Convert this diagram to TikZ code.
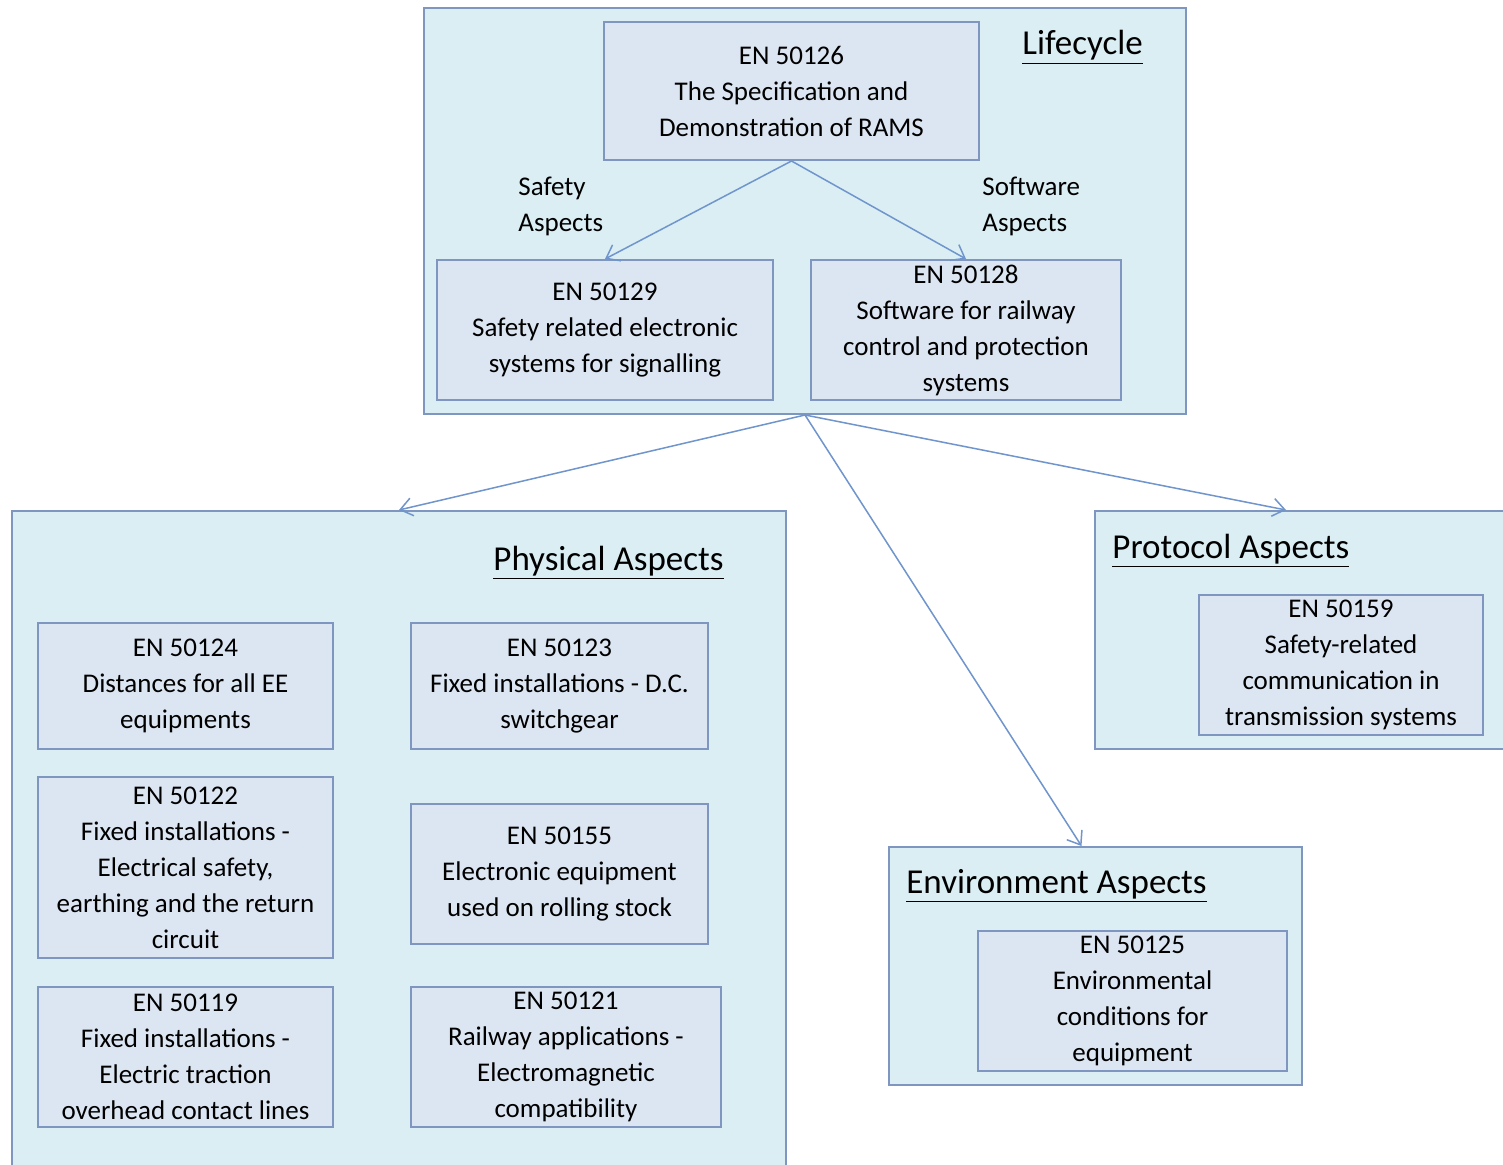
\documentclass[tikz,border=0pt]{standalone}
\usepackage{fontspec}
\setmainfont{Carlito}
\usetikzlibrary{arrows.meta,calc}
\definecolor{panelfill}{HTML}{DAEEF3}
\definecolor{boxfill}{HTML}{DCE6F2}
\definecolor{edgeblue}{HTML}{7F97C0}
\definecolor{linkblue}{HTML}{6F95CC}
\begin{document}
\begin{tikzpicture}[x=0.5pt,y=-0.5pt,
  panel/.style={draw=edgeblue, fill=panelfill, line width=1pt, inner sep=0pt},
  stdbox/.style={draw=edgeblue, fill=boxfill, line width=1pt, inner sep=0pt,
    align=center, font=\fontsize{13.5}{18}\selectfont},
  dim/.style 2 args={minimum width=#1*0.5pt, minimum height=#2*0.5pt},
  title/.style={anchor=base west, inner sep=0pt, font=\fontsize{17.5}{21}\selectfont},
  note/.style={anchor=west, align=left, inner sep=0pt, font=\fontsize{13.5}{18}\selectfont},
  conn/.style={draw=linkblue, line width=0.75pt, -{Straight Barb[length=6pt,width=9pt]}}
]
\useasboundingbox (0,0) rectangle (1503,1165);
\fill[white] (0,0) rectangle (1503,1165);

% container panels
\node[panel, dim={762}{406}] (life) at (805,211) {};
\node[panel, dim={774}{659}] (phys) at (399,840.5) {};
\node[panel, dim={420}{238}] (proto) at (1305,630) {};
\node[panel, dim={413}{238}] (env) at (1095.5,966) {};

% panel titles
\node[title] (tlife) at (1022,55) {\underline{Lifecycle}};
\node[title] (tphys) at (493,570) {\underline{Physical Aspects}};
\node[title] (tproto) at (1112,558) {\underline{Protocol Aspects}};
\node[title] (tenv) at (906,893) {\underline{Environment Aspects}};

% lifecycle standards
\node[stdbox, dim={375}{138}] (r126) at (791.5,91) {EN 50126\\The Specification and\\Demonstration of RAMS};
\node[stdbox, dim={336}{140}] (r129) at (605,330) {EN 50129\\Safety related electronic\\systems for signalling};
\node[stdbox, dim={310}{140}] (r128) at (966,330) {EN 50128\\Software for railway\\control and protection\\systems};
\node[note] (lsafe) at (518,206) {Safety\\Aspects};
\node[note] (lsoft) at (982,206) {Software\\Aspects};

% physical standards
\node[stdbox, dim={295}{126}] (r124) at (185.5,686) {EN 50124\\Distances for all EE\\equipments};
\node[stdbox, dim={297}{126}] (r123) at (559.5,686) {EN 50123\\Fixed installations - D.C.\\switchgear};
\node[stdbox, dim={295}{181}] (r122) at (185.5,867.5) {EN 50122\\Fixed installations -\\Electrical safety,\\earthing and the return\\circuit};
\node[stdbox, dim={297}{140}] (r155) at (559.5,874) {EN 50155\\Electronic equipment\\used on rolling stock};
\node[stdbox, dim={295}{140}] (r119) at (185.5,1057) {EN 50119\\Fixed installations -\\Electric traction\\overhead contact lines};
\node[stdbox, dim={310}{140}] (r121) at (566,1057) {EN 50121\\Railway applications -\\Electromagnetic\\compatibility};

% protocol and environment standards
\node[stdbox, dim={284}{140}] (r159) at (1341,665) {EN 50159\\Safety-related\\communication in\\transmission systems};
\node[stdbox, dim={309}{140}] (r125) at (1132.5,1001) {EN 50125\\Environmental\\conditions for\\equipment};

% connectors
\coordinate (envtip) at ($(env.north)+(-14,0)$);
\coordinate (prototip) at ($(proto.north west)+(192,0)$);
\draw[conn] (r126.south) -- (r129.north);
\draw[conn] (r126.south) -- (r128.north);
\draw[conn] (life.south) -- (phys.north);
\draw[conn] (life.south) -- (envtip);
\draw[conn] (life.south) -- (prototip);
\end{tikzpicture}
\end{document}
